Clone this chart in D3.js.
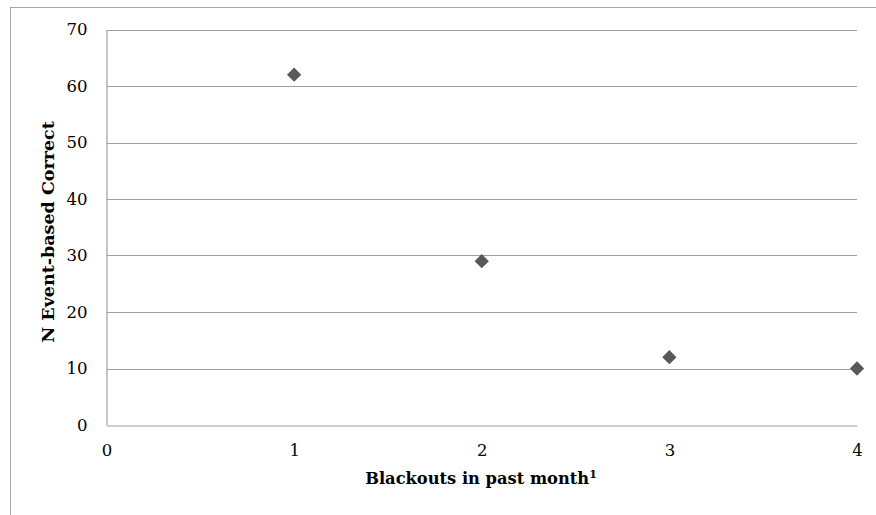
<!DOCTYPE html>
<html><head><meta charset="utf-8">
<script src="https://cdn.jsdelivr.net/npm/d3@7"></script>
<style>body{margin:0;background:#fff}svg{display:block}</style>
</head><body>
<svg id="c" width="876" height="515"></svg>
<script>
const xValues = [1, 2, 3, 4];
const yValues = [62, 29, 12, 10];
const xTicks = [0, 1, 2, 3, 4];
const yTicks = [0, 10, 20, 30, 40, 50, 60, 70];
const xTitle = "Blackouts in past month";
const yTitle = "N Event-based Correct";

const svg = d3.select("#c");
const font = "'DejaVu Serif', serif";
// outer frame
svg.append("rect").attr("x", 10.5).attr("y", 7.5).attr("width", 900).attr("height", 600)
  .attr("fill", "none").attr("stroke", "#a6a6a6").attr("stroke-width", 1);

const x = d3.scaleLinear().domain([0, 4]).range([106.5, 857]);
const y = d3.scaleLinear().domain([0, 70]).range([425, 29.5]);

// gridlines
svg.append("g").selectAll("line").data(yTicks.filter(d => d > 0)).join("line")
  .attr("x1", x(0)).attr("x2", x(4)).attr("y1", d => Math.round(y(d)) + 0.5).attr("y2", d => Math.round(y(d)) + 0.5)
  .attr("stroke", "#a0a0a0").attr("stroke-width", 1.2);

// axes
const yAxis = d3.axisLeft(y).tickValues(yTicks).tickSize(0).tickPadding(19).tickFormat(d3.format("d"));
const gy = svg.append("g").attr("transform", `translate(${x(0)},0)`).call(yAxis);
const xAxis = d3.axisBottom(x).tickValues(xTicks).tickSize(0).tickPadding(19).tickFormat(d3.format("d"));
const gx = svg.append("g").attr("transform", `translate(0,${Math.round(y(0)) + 0.5})`).call(xAxis);
[gx, gy].forEach(g => {
  g.select(".domain").attr("stroke", "#a0a0a0").attr("stroke-width", 1.2);
  g.selectAll("text").attr("font-family", font).attr("font-size", 16.5).attr("fill", "#000");
});

// points
const data = xValues.map((v, i) => ({x: v, y: yValues[i]}));
svg.append("g").selectAll("path").data(data).join("path")
  .attr("transform", d => `translate(${x(d.x)},${y(d.y)})`)
  .attr("d", d3.symbol().type(d3.symbolDiamond2).size(130))
  .attr("fill", "#595959");

// titles
const xt = svg.append("text").attr("x", 481).attr("y", 484)
  .attr("text-anchor", "middle").attr("font-family", font).attr("font-weight", "bold").attr("font-size", 16.3).attr("fill", "#000");
xt.append("tspan").text(xTitle);
xt.append("tspan").text("1").attr("font-size", 11).attr("dy", -6);

svg.append("text").attr("transform", `translate(54,232) rotate(-90)`)
  .attr("text-anchor", "middle").attr("font-family", font).attr("font-weight", "bold").attr("font-size", 17.5).attr("fill", "#000")
  .text(yTitle);
</script>
</body></html>
